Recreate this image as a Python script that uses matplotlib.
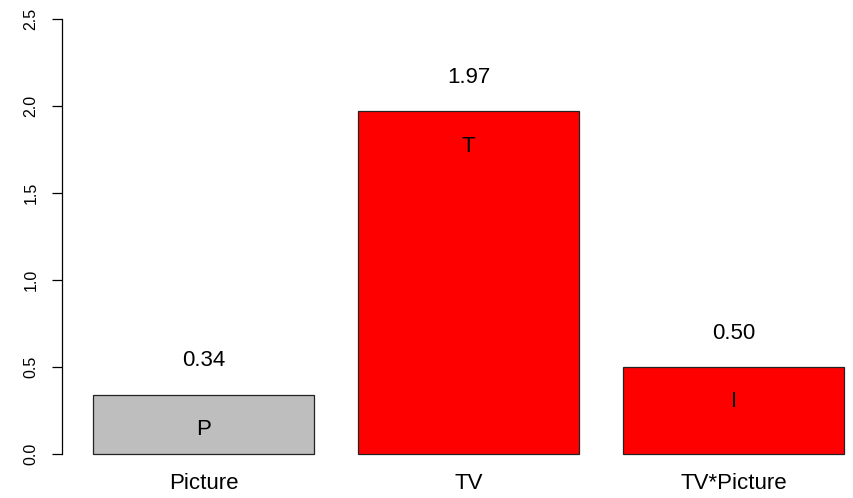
import matplotlib.pyplot as plt
import numpy as np

plt.rcParams['font.family'] = ['Liberation Sans', 'DejaVu Sans']

categories = ['Picture', 'TV', 'TV*Picture']
values = [0.34, 1.97, 0.50]
letters = ['P', 'T', 'I']
colors = ['#bebebe', '#ff0000', '#ff0000']

# R barplot style positions: width 1, space 0.2
x = 0.7 + 1.2 * np.arange(len(values))

fig = plt.figure(figsize=(8.54, 4.98), dpi=100)
ax = fig.add_axes([62 / 854, 26.6 / 498, (854 - 62) / 854, 469.8 / 498])

ax.bar(x, values, width=1.0, color=colors, edgecolor='#222222', linewidth=0.9)

for xi, v, lt in zip(x, values, letters):
    ax.text(xi, v + 0.195, '%.2f' % v, ha='center', va='center', fontsize=16)
    ax.text(xi, v - 0.2, lt, ha='center', va='center', fontsize=16)

for xi, c in zip(x, categories):
    ax.text(xi, -0.167, c, ha='center', va='center', fontsize=16)

ax.set_xlim(0.06, 3.643)
ax.set_ylim(-0.1, 2.6)
ax.set_yticks(np.arange(0, 2.51, 0.5))
ax.set_yticklabels(['%.1f' % t for t in np.arange(0, 2.51, 0.5)],
                   rotation=90, va='center', fontsize=11.5)
ax.tick_params(axis='y', length=7, width=0.9, pad=10)
ax.set_xticks([])

ax.spines['left'].set_bounds(0, 2.5)
ax.spines['left'].set_linewidth(0.9)
ax.spines['right'].set_color('none')
ax.spines['top'].set_color('none')
ax.spines['bottom'].set_color('none')

fig.savefig('out.png', dpi=100)
